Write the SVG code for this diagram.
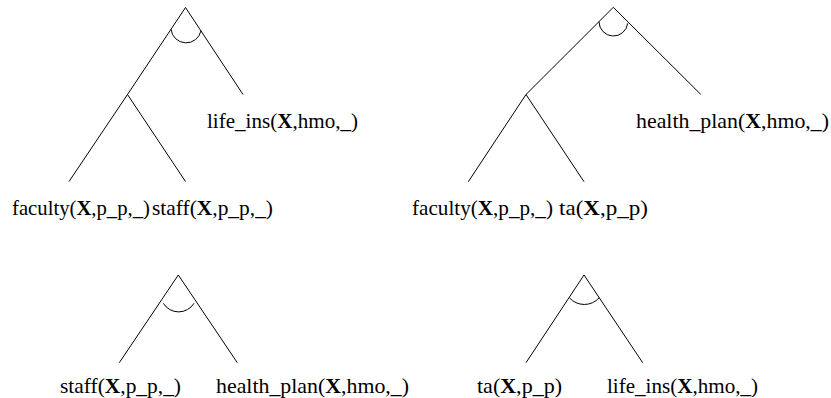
<svg xmlns="http://www.w3.org/2000/svg" width="831" height="398" viewBox="0 0 831 398">
<style>
.e{stroke:#000;stroke-width:1;fill:none}
.t{font-family:"Liberation Serif","DejaVu Serif",serif;font-size:21px;fill:#000}
.b{font-weight:bold}
</style>
<rect width="831" height="398" fill="#fff"/>
<g id="connectors">
<path class="e" d="M185.5,7.5 L127.5,94.5 L69,181.5 M127.5,94.5 L185.5,181.5 M185.5,7.5 L243,94.5"/>
<path class="e" d="M171,29.3 A15.2 15.2 0 0 0 201,30.7"/>
<path class="e" d="M613.3,7.3 L526,94.5 L468.3,181.7 M526,94.5 L584,181.7 M613.3,7.3 L700.7,94.3"/>
<path class="e" d="M599,21.7 A14.4 14.4 0 0 0 627.7,23.3"/>
<path class="e" d="M178.3,275 L119.3,362.7 M178.3,275 L237.3,362.7"/>
<path class="e" d="M163.3,303.3 A18 18 0 0 0 194,303.3"/>
<path class="e" d="M584,275 L526,362.7 M584,275 L642.7,362.7"/>
<path class="e" d="M569.3,297.7 A20 20 0 0 0 599.3,297.7"/>
</g>
<g id="n1"><text class="t" x="12" y="215" textLength="138" lengthAdjust="spacingAndGlyphs">faculty(<tspan class="b">X</tspan>,p_p,_)</text></g>
<g id="n2"><text class="t" x="152" y="215" textLength="121" lengthAdjust="spacingAndGlyphs">staff(<tspan class="b">X</tspan>,p_p,_)</text></g>
<g id="n3"><text class="t" x="207" y="128" textLength="151" lengthAdjust="spacingAndGlyphs">life_ins(<tspan class="b">X</tspan>,hmo,_)</text></g>
<g id="n4"><text class="t" x="412" y="215" textLength="141" lengthAdjust="spacingAndGlyphs">faculty(<tspan class="b">X</tspan>,p_p,_)</text></g>
<g id="n5"><text class="t" x="559" y="215" textLength="89" lengthAdjust="spacingAndGlyphs">ta(<tspan class="b">X</tspan>,p_p)</text></g>
<g id="n6"><text class="t" x="636" y="128" textLength="193" lengthAdjust="spacingAndGlyphs">health_plan(<tspan class="b">X</tspan>,hmo,_)</text></g>
<g id="n7"><text class="t" x="60" y="393" textLength="121" lengthAdjust="spacingAndGlyphs">staff(<tspan class="b">X</tspan>,p_p,_)</text></g>
<g id="n8"><text class="t" x="216" y="393" textLength="193" lengthAdjust="spacingAndGlyphs">health_plan(<tspan class="b">X</tspan>,hmo,_)</text></g>
<g id="n9"><text class="t" x="477" y="393" textLength="85" lengthAdjust="spacingAndGlyphs">ta(<tspan class="b">X</tspan>,p_p)</text></g>
<g id="n10"><text class="t" x="607" y="393" textLength="151" lengthAdjust="spacingAndGlyphs">life_ins(<tspan class="b">X</tspan>,hmo,_)</text></g>
</svg>
